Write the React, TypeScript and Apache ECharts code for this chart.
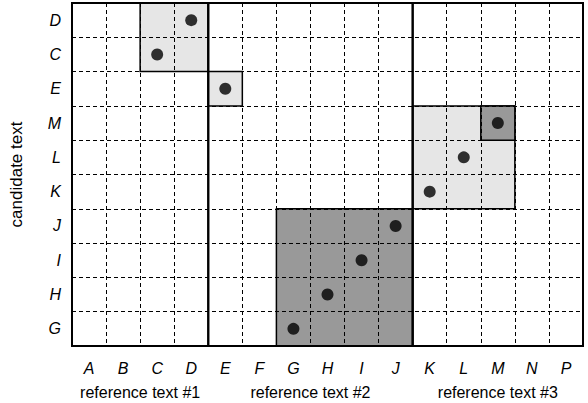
import React, { useEffect, useRef } from "react";
import * as echarts from "echarts";

const xCategories = ["A", "B", "C", "D", "E", "F", "G", "H", "I", "J", "K", "L", "M", "N", "P"];
const yCategories = ["G", "H", "I", "J", "K", "L", "M", "E", "C", "D"];
const pointLetters = ["D", "C", "E", "M", "L", "K", "J", "I", "H", "G"];
// [xFrom, xTo, yFrom, yTo, shade]
const blocks: [string, string, string, string, string][] = [
  ["C", "D", "C", "D", "light"],
  ["E", "E", "E", "E", "light"],
  ["G", "J", "G", "J", "dark"],
  ["K", "M", "K", "M", "light"],
  ["M", "M", "M", "M", "dark"],
];
const groupNames = ["reference text #1", "reference text #2", "reference text #3"];
const groupFrom = ["A", "E", "K"];
const groupTo = ["D", "J", "P"];

const FONT = "'Liberation Sans', Arial, sans-serif";

export default function App() {
  const ref = useRef<HTMLDivElement>(null);
  useEffect(() => {
    document.body.style.margin = "0";
    const chart = echarts.init(ref.current!, null, { renderer: "svg" });
    const xi = (c: string) => xCategories.indexOf(c);
    const yi = (c: string) => yCategories.indexOf(c);
    const blockData = blocks.map((b) => [xi(b[0]), xi(b[1]), yi(b[2]), yi(b[3]), b[4] === "dark" ? 1 : 0]);
    const groupData = groupFrom.map((f, i) => [xi(f), xi(groupTo[i]), 0, yCategories.length - 1]);
    const groupCenters = groupFrom.map((f, i) => (xi(f) + xi(groupTo[i]) + 1) / 2);
    const pointData = pointLetters.map((p) => [p, p]);

    const rectItem = (fillFn: (v: number) => string, lw: number) => (params: any, api: any) => {
      const size = api.size([1, 1]);
      const a = api.coord([api.value(0), api.value(2)]);
      const b = api.coord([api.value(1), api.value(3)]);
      const x0 = a[0] - size[0] / 2;
      const x1 = b[0] + size[0] / 2;
      const yBottom = a[1] + size[1] / 2;
      const yTop = b[1] - size[1] / 2;
      return {
        type: "rect",
        shape: { x: x0, y: yTop, width: x1 - x0, height: yBottom - yTop },
        style: { fill: fillFn(api.value(4)), stroke: "#000", lineWidth: lw },
      };
    };

    chart.setOption({
      animation: false,
      grid: { left: 66, right: 5, top: 3, bottom: 57 },
      xAxis: [
        {
          type: "category",
          data: xCategories,
          z: 3,
          axisLine: { show: false },
          axisTick: { show: false },
          axisLabel: { fontFamily: FONT, fontStyle: "italic", fontSize: 16, color: "#000", margin: 14 },
          splitLine: { show: true, lineStyle: { color: "#000", width: 1, type: [4, 3] } },
        },
        {
          type: "value",
          min: 0,
          max: xCategories.length,
          position: "bottom",
          axisLine: { show: false },
          axisTick: { show: false },
          splitLine: { show: false },
          axisLabel: {
            customValues: groupCenters,
            formatter: (v: number) => groupNames[groupCenters.indexOf(v)] ?? "",
            fontFamily: FONT,
            fontSize: 16,
            color: "#000",
            margin: 38,
          },
        },
      ],
      yAxis: {
        type: "category",
        data: yCategories,
        z: 3,
        name: "candidate text",
        nameLocation: "middle",
        nameGap: 47,
        nameTextStyle: { fontFamily: FONT, fontSize: 17, color: "#000" },
        axisLine: { show: false },
        axisTick: { show: false },
        axisLabel: { fontFamily: FONT, fontStyle: "italic", fontSize: 16, color: "#000", margin: 11 },
        splitLine: { show: true, lineStyle: { color: "#000", width: 1, type: [4, 3] } },
      },
      series: [
        {
          type: "custom",
          z: 1,
          xAxisIndex: 0,
          data: blockData,
          renderItem: rectItem((v) => (v === 1 ? "#999999" : "#e6e6e6"), 1.5),
        },
        {
          type: "custom",
          z: 4,
          xAxisIndex: 0,
          data: groupData,
          renderItem: rectItem(() => "none", 2),
        },
        {
          type: "scatter",
          z: 5,
          xAxisIndex: 0,
          data: pointData,
          symbol: "circle",
          symbolSize: 12,
          itemStyle: { color: "#000" },
        },
      ],
    });
    return () => chart.dispose();
  }, []);
  return <div ref={ref} style={{ width: 588, height: 403, position: "absolute", left: 0, top: 0 }} />;
}
